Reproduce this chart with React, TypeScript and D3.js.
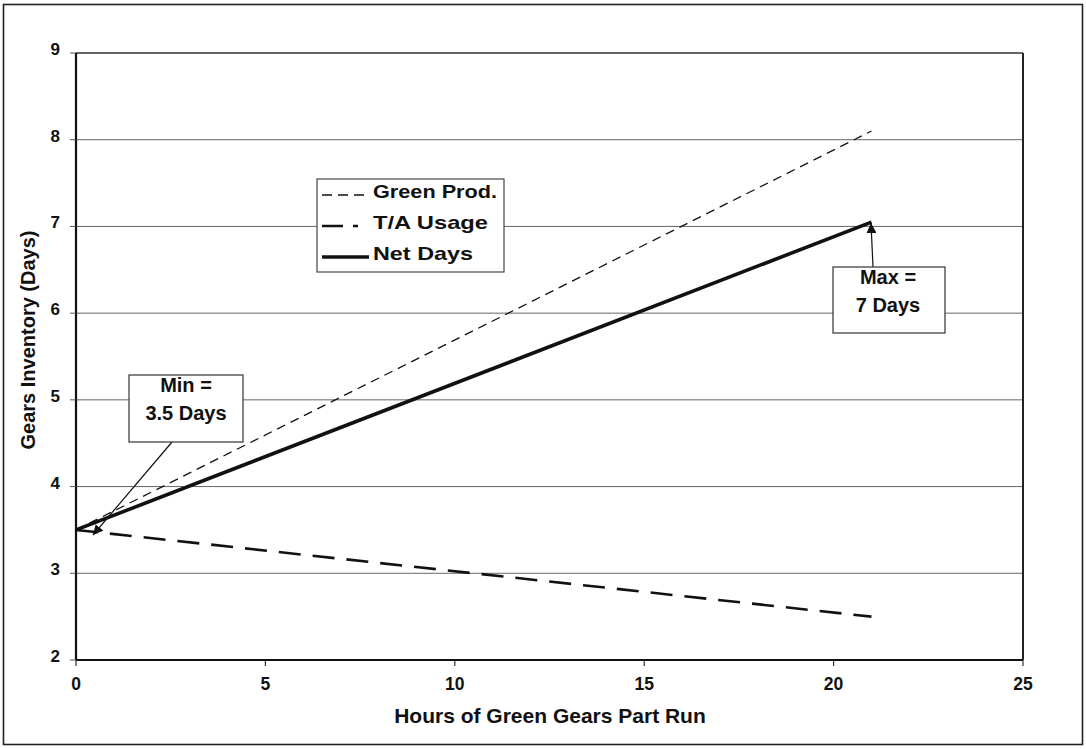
import React from "react";
import * as d3 from "d3";

const hours = [0, 21];
const greenProd = [3.5, 8.1];
const taUsage = [3.5, 2.5];
const netDays = [3.5, 7.05];
const xTicks = [0, 5, 10, 15, 20, 25];
const yTicks = [2, 3, 4, 5, 6, 7, 8, 9];
const legendItems = ["Green Prod.", "T/A Usage", "Net Days"];

const W = 1086, H = 749;
const M = { left: 76, right: 1023, top: 53, bottom: 660 };
const FONT = "'Liberation Sans', Arial, sans-serif";

export default function App() {
  const x = d3.scaleLinear().domain([0, 25]).range([M.left, M.right]);
  const y = d3.scaleLinear().domain([2, 9]).range([M.bottom, M.top]);
  const line = d3.line<number>().x((_, i) => x(hours[i])).y((d) => y(d));
  const series = [
    { name: legendItems[0], data: greenProd, w: 1.3, dash: "9,6", ldash: "10,6" },
    { name: legendItems[1], data: taUsage, w: 2.6, dash: "22,12", ldash: "21,10,5,20" },
    { name: legendItems[2], data: netDays, w: 3.6, dash: "", ldash: "" },
  ];
  return (
    <svg width={W} height={H} style={{ position: "absolute", left: 0, top: 0, background: "#fff" }} fontFamily={FONT}>
      <defs>
        <marker id="ah" viewBox="0 0 10 10" refX="10" refY="5" markerWidth="10" markerHeight="10" orient="auto-start-reverse" markerUnits="userSpaceOnUse">
          <path d="M0,0 L10,5 L0,10 z" fill="#111" />
        </marker>
      </defs>
      <rect x={3.5} y={4.5} width={1079} height={740} fill="none" stroke="#222" strokeWidth={1.6} />
      {yTicks.slice(1, -1).map((t) => (
        <line key={t} x1={M.left} x2={M.right} y1={y(t)} y2={y(t)} stroke="#666" strokeWidth={1} />
      ))}
      <line x1={M.left} x2={M.right} y1={M.top} y2={M.top} stroke="#333" strokeWidth={1.5} />
      <line x1={M.right} x2={M.right} y1={M.top} y2={M.bottom} stroke="#222" strokeWidth={2} />
      <line x1={M.left} x2={M.left} y1={M.top} y2={M.bottom} stroke="#111" strokeWidth={2.2} />
      <line x1={M.left} x2={M.right} y1={M.bottom} y2={M.bottom} stroke="#111" strokeWidth={2.2} />
      {yTicks.map((t) => (
        <g key={t}>
          <line x1={M.left - 6} x2={M.left} y1={y(t)} y2={y(t)} stroke="#555" strokeWidth={1} />
          <text x={M.left - 16} y={y(t) + 2} textAnchor="end" fontWeight="bold" fontSize={17} fill="#111">{t}</text>
        </g>
      ))}
      {xTicks.map((t) => (
        <g key={t}>
          <line x1={x(t)} x2={x(t)} y1={M.bottom} y2={M.bottom + 6} stroke="#333" strokeWidth={1.2} />
          <text x={x(t)} y={M.bottom + 30} textAnchor="middle" fontWeight="bold" fontSize={17.5} fill="#111">{t}</text>
        </g>
      ))}
      <text x={550} y={723} textAnchor="middle" fontWeight="bold" fontSize={21} fill="#111">Hours of Green Gears Part Run</text>
      <text transform={`translate(35, 340) rotate(-90)`} textAnchor="middle" fontWeight="bold" fontSize={20} fill="#111">Gears Inventory (Days)</text>
      {series.map((s) => (
        <path key={s.name} d={line(s.data) || ""} fill="none" stroke="#111" strokeWidth={s.w} strokeDasharray={s.dash} />
      ))}
      <rect x={317} y={179} width={187} height={93} fill="#fff" stroke="#444" strokeWidth={1.2} />
      {series.map((s, i) => (
        <g key={s.name}>
          <line x1={322} x2={369} y1={195 + i * 31} y2={195 + i * 31} stroke="#111" strokeWidth={s.w} strokeDasharray={s.ldash} />
          <text x={373} y={198 + i * 31} fontWeight="bold" fontSize={19} textLength={[124, 115, 100][i]} lengthAdjust="spacingAndGlyphs" fill="#111">{s.name}</text>
        </g>
      ))}
      <line x1={172} y1={442} x2={93} y2={535} stroke="#111" strokeWidth={1.2} markerEnd="url(#ah)" />
      <rect x={129} y={375} width={114} height={67} fill="#fff" stroke="#333" strokeWidth={1.2} />
      <text x={186} y={392} textAnchor="middle" fontWeight="bold" fontSize={20} fill="#111">Min =</text>
      <text x={186} y={420} textAnchor="middle" fontWeight="bold" fontSize={20} fill="#111">3.5 Days</text>
      <line x1={873} y1={267} x2={871} y2={y(7.05) + 1} stroke="#111" strokeWidth={1.2} markerEnd="url(#ah)" />
      <rect x={833} y={267} width={112} height={66} fill="#fff" stroke="#333" strokeWidth={1.2} />
      <text x={888} y={284} textAnchor="middle" fontWeight="bold" fontSize={20} fill="#111">Max =</text>
      <text x={888} y={312} textAnchor="middle" fontWeight="bold" fontSize={20} fill="#111">7 Days</text>
    </svg>
  );
}
